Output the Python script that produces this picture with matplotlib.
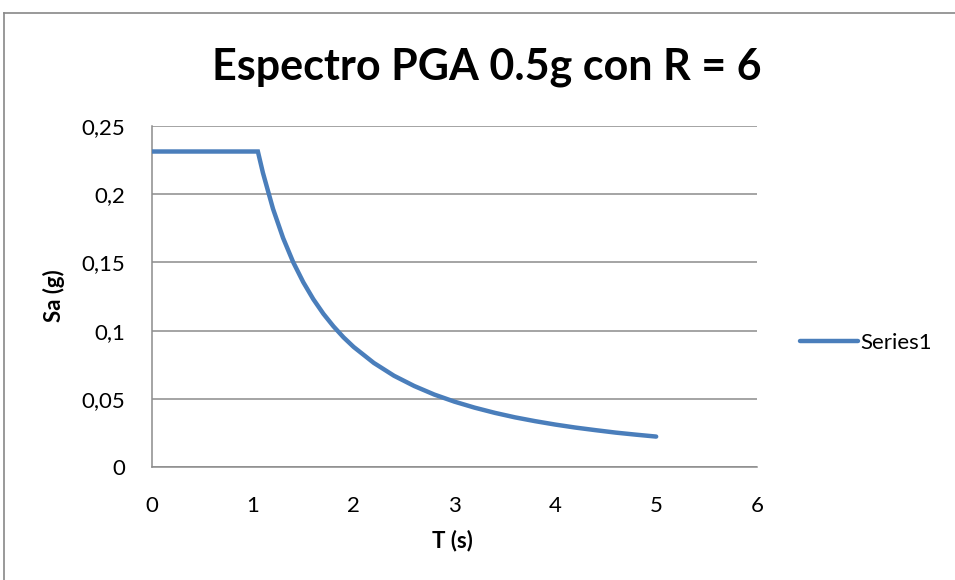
import matplotlib
matplotlib.use("Agg")
import matplotlib.pyplot as plt
from matplotlib.lines import Line2D
from matplotlib.ticker import FuncFormatter

# Spectrum: period T (s) and spectral acceleration Sa (g)
periodo = [0.0, 1.05, 1.1, 1.2, 1.3, 1.4, 1.5, 1.6, 1.7, 1.8, 1.9, 2.0,
           2.2, 2.4, 2.6, 2.8, 3.0, 3.2, 3.4, 3.6, 3.8, 4.0, 4.2, 4.4,
           4.6, 4.8, 5.0]
sa = [0.2313, 0.2313, 0.2157, 0.1893, 0.1679, 0.1502, 0.1355, 0.1230,
      0.1123, 0.1031, 0.0950, 0.0880, 0.0763, 0.0669, 0.0594, 0.0531,
      0.0479, 0.0435, 0.0397, 0.0364, 0.0336, 0.0311, 0.0289, 0.0270,
      0.0252, 0.0237, 0.0223]

x_ticks = [0, 1, 2, 3, 4, 5, 6]
y_ticks = [0, 0.05, 0.1, 0.15, 0.2, 0.25]

titulo = "Espectro PGA 0.5g con R = 6"
serie = "Series1"

font = ["Lato", "DejaVu Sans"]
plt.rcParams["font.family"] = font

W, H = 955, 580
fig = plt.figure(figsize=(W / 100, H / 100), dpi=100)
ax = fig.add_axes([152 / W, 1 - 467 / H, (757 - 152) / W, (467 - 126) / H])

ax.plot(periodo, sa, color="#4a7ebb", lw=3.2, solid_capstyle="round",
        solid_joinstyle="miter", label=serie, zorder=3)

ax.set_xlim(0, 6)
ax.set_ylim(0, 0.25)
ax.set_xticks(x_ticks)
ax.set_yticks(y_ticks)
ax.yaxis.set_major_formatter(FuncFormatter(lambda v, p: f"{v:g}".replace(".", ",")))
ax.grid(axis="y", color="#8c8c8c", lw=1.1)
ax.set_axisbelow(True)
for s in ["top", "right"]:
    ax.spines[s].set_visible(False)
for s in ["left", "bottom"]:
    ax.spines[s].set_color("#8c8c8c")
    ax.spines[s].set_linewidth(1.1)
ax.tick_params(length=0, labelsize=16, colors="black")
ax.tick_params(axis="x", pad=21)
ax.tick_params(axis="y", pad=19)

ax.set_xlabel("T (s)", fontsize=16, fontweight="bold")
ax.xaxis.set_label_coords((452 - 152) / 605, (467 - 541) / 341)
ax.xaxis.label.set_verticalalignment("center")
ax.set_ylabel("Sa (g)", fontsize=16, fontweight="bold")
ax.yaxis.set_label_coords((54 - 152) / 605, (467 - 296) / 341)
ax.yaxis.label.set_verticalalignment("center")

fig.text(487 / W, 1 - 67 / H, titulo, ha="center", va="center",
         fontsize=31, fontweight="bold")

# legend at the right of the plot area
fig.legend(handles=[Line2D([0], [0], color="#4a7ebb", lw=3.2, solid_capstyle="round")],
           labels=[serie], loc="center left", bbox_to_anchor=(800 / W, 1 - 343 / H),
           frameon=False, fontsize=16, handlelength=2.6, handletextpad=0.1,
           borderaxespad=0, borderpad=0)

# chart frame
frame_color = "#888888"
fig.add_artist(Line2D([4 / W, 1.0], [1 - 13 / H] * 2, color=frame_color, lw=1.2))
fig.add_artist(Line2D([4 / W] * 2, [0, 1 - 13 / H], color=frame_color, lw=1.2))

fig.savefig("out.png", dpi=100)
